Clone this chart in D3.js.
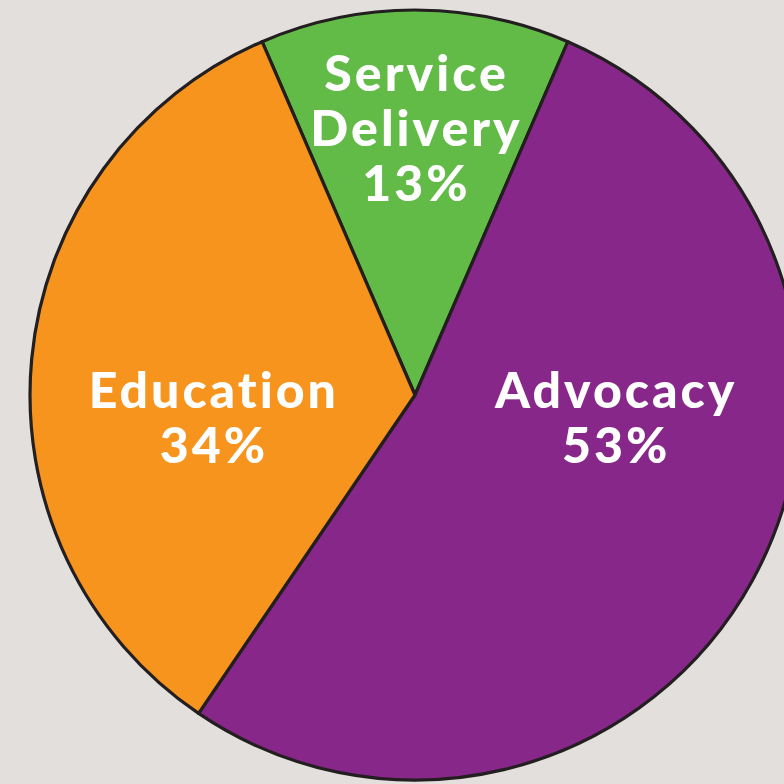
<!DOCTYPE html>
<html>
<head>
<meta charset="utf-8">
<script src="https://cdn.jsdelivr.net/npm/d3@7"></script>
<style>
  html, body { margin: 0; padding: 0; background: #e3dfdc; overflow: hidden; }
  .label { font-variant-ligatures: none; }
</style>
</head>
<body>
<div id="grafico"></div>
<script>
    var categorias = ['Service Delivery', 'Advocacy', 'Education'];
    var porcentajes = [13, 53, 34];
    var etiquetas = [['Service', 'Delivery', '13%'], ['Advocacy', '53%'], ['Education', '34%']];
    var colores = ['#62bb46', '#88278a', '#f7941d'];

    var svgWidth = 784;
    var svgHeight = 784;
    var cx = 415, cy = 395, radius = 385;

    var svg = d3.select("#grafico")
      .append("svg")
      .attr("width", svgWidth)
      .attr("height", svgHeight);

    var chart = svg.append("g")
      .attr("transform", "translate(" + cx + "," + cy + ")");

    // service delivery slice centred on 12 o'clock
    var start = -Math.PI * porcentajes[0] / 100;
    var pie = d3.pie()
      .sort(null)
      .value(d => d)
      .startAngle(start)
      .endAngle(start + 2 * Math.PI);

    var arc = d3.arc().innerRadius(0).outerRadius(radius);

    var arcs = pie(porcentajes);

    chart.selectAll(".slice")
      .data(arcs)
      .enter()
      .append("path")
      .attr("class", "slice")
      .attr("d", arc)
      .attr("fill", (d, i) => colores[i])
      .attr("stroke", "#231f20")
      .attr("stroke-width", 3.2)
      .attr("stroke-linejoin", "round");

    // label anchors: angle (deg, clockwise from top) and distance from centre
    var labelPolar = [[0, 267], [96.5, 201], [-96.5, 204]];
    var lineH = 55;

    chart.selectAll(".label")
      .data(arcs)
      .enter()
      .append("text")
      .attr("class", "label")
      .attr("text-anchor", "middle")
      .attr("fill", "#ffffff")
      .attr("font-family", "Lato, 'Open Sans', sans-serif")
      .attr("font-weight", 900)
      .attr("font-size", 50)
      .attr("letter-spacing", 3)
      .each(function(d, i) {
        var a = labelPolar[i][0] * Math.PI / 180, r = labelPolar[i][1];
        var x = r * Math.sin(a) + 1.5, y = -r * Math.cos(a);
        var lines = etiquetas[i];
        var y0 = y - (lines.length - 1) * lineH / 2;
        d3.select(this).selectAll("tspan")
          .data(lines)
          .enter()
          .append("tspan")
          .attr("x", x)
          .attr("y", (t, j) => y0 + j * lineH)
          .attr("dy", "0.35em")
          .text(t => t);
      });
</script>
</body>
</html>
